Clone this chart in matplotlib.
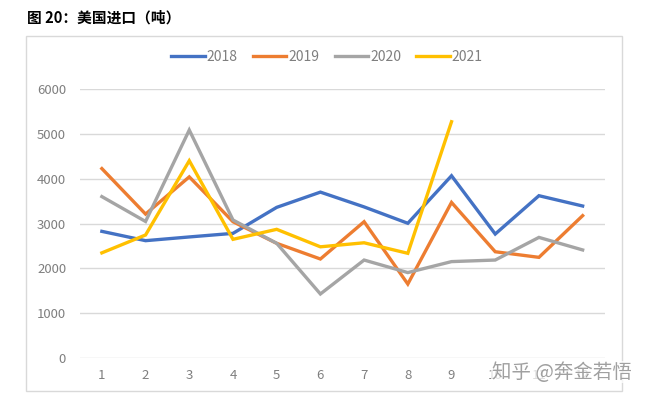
import matplotlib
matplotlib.use('Agg')
import matplotlib.pyplot as plt
from matplotlib.patches import Rectangle

plt.rcParams['font.family'] = ['Noto Sans CJK SC', 'DejaVu Sans']

# monthly US imports (tonnes)
months = [1, 2, 3, 4, 5, 6, 7, 8, 9, 10, 11, 12]
y2018 = [2825, 2617, 2700, 2780, 3360, 3700, 3370, 3005, 4065, 2765, 3620, 3390]
y2019 = [4225, 3210, 4040, 3040, 2558, 2208, 3040, 1650, 3470, 2370, 2245, 3175]
y2020 = [3600, 3045, 5085, 3078, 2558, 1428, 2185, 1905, 2150, 2185, 2690, 2410]
y2021 = [2345, 2744, 4400, 2647, 2870, 2480, 2570, 2335, 5270]
series = [('2018', y2018, '#4472C4'), ('2019', y2019, '#ED7D31'),
          ('2020', y2020, '#A5A5A5'), ('2021', y2021, '#FFC000')]
yticks = [0, 1000, 2000, 3000, 4000, 5000, 6000]

fig = plt.figure(figsize=(6.48, 3.96), dpi=100)
ax = fig.add_axes([80 / 648, 1 - 358 / 396, 524.5 / 648, 269 / 396])

for name, vals, col in series:
    ax.plot(months[:len(vals)], vals, color=col, lw=2.4, label=name,
            solid_joinstyle='miter', zorder=3)

ax.set_xlim(0.5, 12.5)
ax.set_ylim(0, 6000)
ax.set_yticks(yticks)
ax.set_xticks(months)
ax.grid(axis='y', color='#d9d9d9', lw=1)
ax.set_axisbelow(True)
for s in ax.spines.values():
    s.set_visible(False)
ax.tick_params(length=0, labelsize=9.5, labelcolor='#7f7f7f')
ax.tick_params(axis='y', pad=10)
ax.tick_params(axis='x', pad=8)

leg = fig.legend(loc='center', bbox_to_anchor=(327 / 648, 1 - 57 / 396), ncol=4,
                 frameon=False, fontsize=10, handlelength=2.4, handletextpad=0.15,
                 columnspacing=1.1)
for t in leg.get_texts():
    t.set_color('#7f7f7f')

# outer frame
fig.patches.append(Rectangle((26 / 648, 1 - 391 / 396), 596 / 648, 355 / 396,
                             transform=fig.transFigure, fill=False,
                             edgecolor='#d9d9d9', lw=1))

fig.text(27 / 648, 1 - 18 / 396, '图 20：美国进口（吨）', fontsize=10.6,
         fontweight='bold', va='center', ha='left')

# watermark sits over the 10/11 tick labels like in the source image
fig.text(632 / 648, 1 - 372 / 396, '知乎 @奔金若悟', fontsize=14, color='#a0a0a0',
         ha='right', va='center',
         bbox=dict(boxstyle='square,pad=0.05', fc='white', ec='none', alpha=0.75))

fig.savefig('out.png', dpi=100)
